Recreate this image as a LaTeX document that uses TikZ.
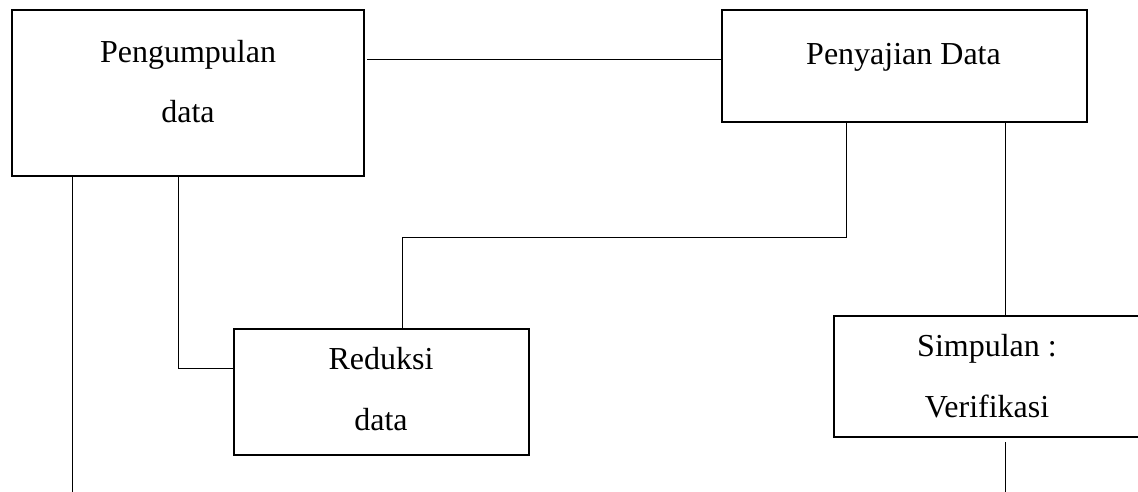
\documentclass[tikz,border=0pt]{standalone}
\usepackage{fontspec}
\setmainfont{Liberation Serif}
\begin{document}
\begin{tikzpicture}[x=1pt,y=-1pt,
  box/.style={draw, line width=2pt, rectangle, inner sep=0pt, outer sep=0pt},
  link/.style={draw, line width=1pt},
  lbl/.style={font=\fontsize{32}{38}\selectfont, inner sep=0pt, anchor=base}]
\clip (0,0) rectangle (1138,492);
\fill[white] (0,0) rectangle (1138,492);

% boxes
\node[box, minimum width=352pt, minimum height=165.5pt] (pengumpulan) at (188,93) {};
\node[box, minimum width=365pt, minimum height=111.5pt] (penyajian) at (904.5,66.25) {};
\node[box, minimum width=294.7pt, minimum height=125.7pt] (reduksi) at (381.3,392) {};
\node[box, minimum width=307pt, minimum height=121pt] (simpulan) at (987.5,376.5) {};

% labels
\node[lbl] (t1a) at (188,63) {Pengumpulan};
\node[lbl] (t1b) at (188,122.5) {data};
\node[lbl] (t2) at (903.5,65) {Penyajian Data};
\node[lbl] (t3a) at (381,369.5) {Reduksi};
\node[lbl] (t3b) at (381,430.5) {data};
\node[lbl] (t4a) at (987,356.5) {Simpulan :};
\node[lbl] (t4b) at (987,417.5) {Verifikasi};

% connector points
\coordinate (h1) at (367,60);
\coordinate (v1) at (72,492);
\coordinate (k1) at (178,368);
\coordinate (k2) at (846,237);
\coordinate (k3) at (402.5,237);
\coordinate (v2) at (1005,492);
\coordinate (v3) at (1005,442);

% connectors
\draw[link] (h1) -- (h1 -| penyajian.west);
\draw[link] (v1 |- pengumpulan.south) -- (v1);
\draw[link] (k1 |- pengumpulan.south) -- (k1) -- (k1 -| reduksi.west);
\draw[link] (k2 |- penyajian.south) -- (k2) -- (k3) -- (k3 |- reduksi.north);
\draw[link] (v2 |- penyajian.south) -- (v2 |- simpulan.north);
\draw[link] (v3) -- (v2);
\end{tikzpicture}
\end{document}
